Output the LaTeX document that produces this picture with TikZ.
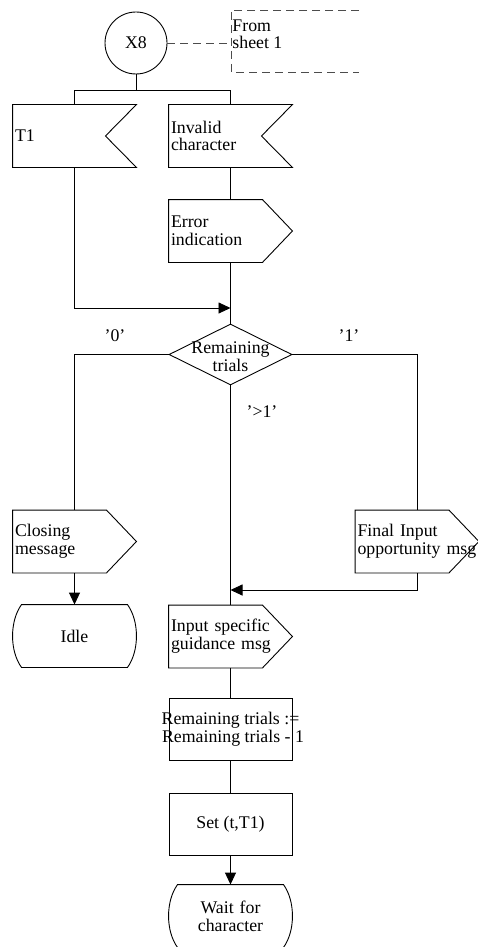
\documentclass[tikz,border=0pt]{standalone}
\usepackage{fontspec}
\setmainfont{Liberation Serif}
\usetikzlibrary{arrows.meta,shapes.geometric,calc}
\begin{document}
\begin{tikzpicture}[x=1pt,y=-1pt,line width=0.9pt,
  every node/.style={font=\fontsize{17.8}{17.8}\selectfont, inner sep=0pt},
  frame/.style={rectangle, minimum width=123pt, minimum height=62pt, inner sep=2pt, text width=119pt, align=left},
  cframe/.style={frame, align=center},
  taskbox/.style={rectangle, draw, minimum width=123pt, minimum height=62pt},
  arr/.style={-{Triangle[length=12pt,width=11pt]}},
  dsh/.style={draw=black!70, dash pattern=on 8pt off 5pt}]
\useasboundingbox (0,0) rectangle (477,947);

% start symbol and page reference
\node[circle, draw, minimum size=62pt] (x8) at (136,43) {X8};
\coordinate (fromin) at (231,43);
\draw[dsh] (359,10) -- (231,10) -- (231,72) -- (359,72);
\node[anchor=north west, align=left] (fromtxt) at (232,19) {From\\sheet 1};
\draw[dsh] (x8) -- (fromin);

% inputs
\node[frame] (t1) at (74.5,136) {T1};
\node[frame] (inv) at (230.5,136) {Invalid\\character};
\foreach \n in {t1,inv}
  \draw (\n.north west) -- (\n.north east) -- ([xshift=-31pt]\n.east) -- (\n.south east) -- (\n.south west) -- cycle;

% outputs
\node[frame] (err) at (230.5,231) {Error\\indication};
\node[frame] (close) at (74.5,541.5) {Closing\\message};
\node[frame] (final) at (417,541.5) {Final Input\\opportunity msg};
\node[frame] (guide) at (230.5,636.5) {Input specific\\guidance msg};
\foreach \n in {err,close,final,guide}
  \draw (\n.north west) -- ([xshift=-30pt]\n.north east) -- (\n.east) -- ([xshift=-30pt]\n.south east) -- (\n.south west) -- cycle;

% decision
\node[diamond, draw, minimum width=123pt, minimum height=61pt, inner sep=0pt, aspect=2] (dec) at (230.5,354.5) {};
\node[align=center] (dectxt) at ([yshift=-2pt]dec.center) {Remaining\\trials};

% tasks
\node[taskbox] (task) at (230.5,729) {};
\node[align=center] (tasktxt) at (task) {Remaining trials :=\\\hspace*{5pt}Remaining trials - 1};
\node[taskbox] (set) at (230.5,824) {Set (t,T1)};

% states
\node[cframe] (idle) at (74.5,636) {Idle};
\node[cframe] (wait) at (230.5,916) {Wait for\\character};
\foreach \n in {idle,wait}
  \draw ([xshift=9pt]\n.north west) -- ([xshift=-9pt]\n.north east)
    .. controls ([xshift=3pt,yshift=15pt]\n.east) and ([xshift=3pt,yshift=-15pt]\n.east) .. ([xshift=-9pt]\n.south east)
    -- ([xshift=9pt]\n.south west)
    .. controls ([xshift=-3pt,yshift=-15pt]\n.west) and ([xshift=-3pt,yshift=15pt]\n.west) .. ([xshift=9pt]\n.north west) -- cycle;

% connectors
\coordinate (j1) at (136,90);
\coordinate (mrg) at (230.5,308);
\coordinate (mrg2) at (230.5,590);
\draw (x8.south) -- (j1);
\draw (t1.north) -- (t1.north |- j1) -- (inv.north |- j1) -- (inv.north);
\draw (inv.south) -- (err.north);
\draw (err.south) -- (dec.north);
\draw[arr] (t1.south) |- (mrg);
\draw (dec.west) -| (close.north);
\draw (dec.east) -| (final.north);
\draw (dec.south) -- (guide.north);
\draw[arr] (close.south) -- (idle.north);
\draw[arr] (final.south) |- (mrg2);
\draw (guide.south) -- (task.north);
\draw (task.south) -- (set.north);
\draw[arr] (set.south) -- (wait.north);

% branch labels
\node (l0) at (115,336) {'0'};
\node (l1) at (349,336) {'1'};
\node (l2) at (262,412) {'>1'};
\end{tikzpicture}
\end{document}
